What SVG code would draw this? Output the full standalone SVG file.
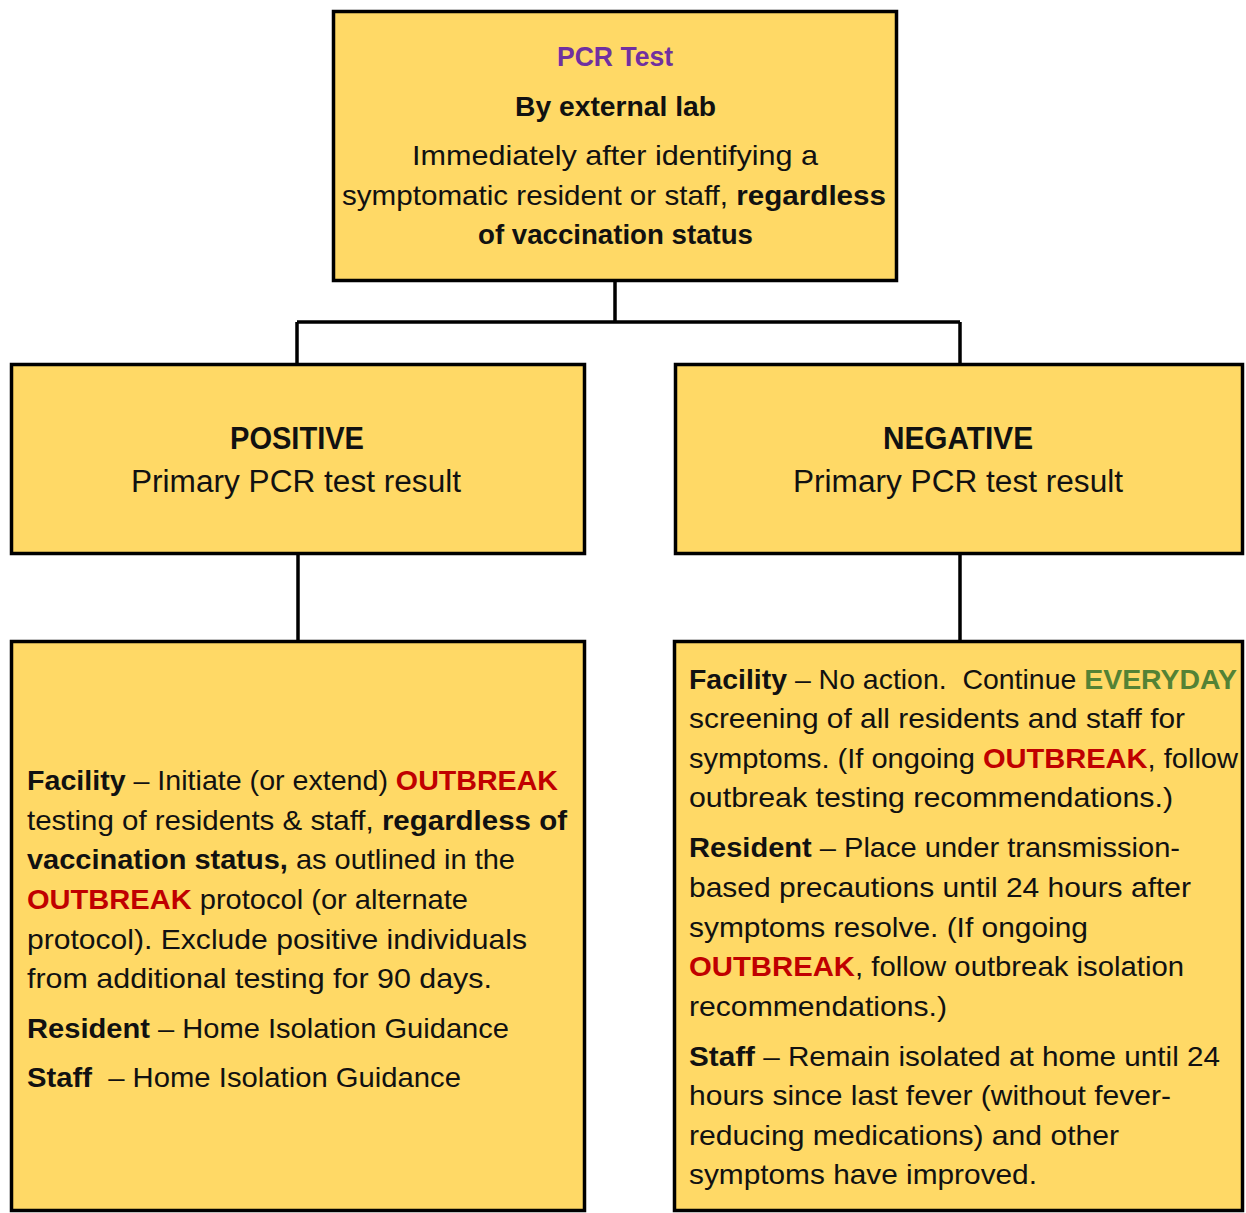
<svg xmlns="http://www.w3.org/2000/svg" width="1246" height="1213" viewBox="0 0 1246 1213">
<style>
.box{fill:#FFD966;stroke:#000;stroke-width:3.5}
.t{font-family:"Liberation Sans",Arial,sans-serif;font-size:28px;fill:#111}
.h{font-size:31px}
.b{font-weight:bold}
.red{fill:#C00000;font-weight:bold}
.grn{fill:#548235;font-weight:bold}
.pur{fill:#7030A0;font-weight:bold}
.c{fill:none;stroke:#000;stroke-width:3.5}
</style>
<rect width="1246" height="1213" fill="#fff"/>
<g id="connectors">
<path class="c" d="M615 282V322M297 322H960M297 322V363M960 322V363"/>
<path class="c" d="M298 555V640"/>
<path class="c" d="M960 555V640"/>
</g>
<g id="pcr-test">
<rect class="box" x="333.5" y="11.5" width="563" height="269"/>
<text class="t pur" x="557" y="66" textLength="116" lengthAdjust="spacingAndGlyphs">PCR Test</text>
<text class="t b" x="515" y="116" textLength="201" lengthAdjust="spacingAndGlyphs">By external lab</text>
<text class="t" x="412" y="165" textLength="406" lengthAdjust="spacingAndGlyphs">Immediately after identifying a</text>
<text class="t" x="342" y="205" textLength="544" lengthAdjust="spacingAndGlyphs">symptomatic resident or staff, <tspan class="b">regardless</tspan></text>
<text class="t b" x="478" y="244" textLength="275" lengthAdjust="spacingAndGlyphs">of vaccination status</text>
</g>
<g id="positive">
<rect class="box" x="11.5" y="364.5" width="573" height="189"/>
<text class="t h b" x="230" y="449" textLength="134" lengthAdjust="spacingAndGlyphs">POSITIVE</text>
<text class="t h" x="131" y="492" textLength="330" lengthAdjust="spacingAndGlyphs">Primary PCR test result</text>
</g>
<g id="negative">
<rect class="box" x="675.5" y="364.5" width="567" height="189"/>
<text class="t h b" x="883" y="449" textLength="150" lengthAdjust="spacingAndGlyphs">NEGATIVE</text>
<text class="t h" x="793" y="492" textLength="330" lengthAdjust="spacingAndGlyphs">Primary PCR test result</text>
</g>
<g id="positive-actions">
<rect class="box" x="11.5" y="641.5" width="573" height="569"/>
<text class="t" x="27" y="790" textLength="531" lengthAdjust="spacingAndGlyphs"><tspan class="b">Facility</tspan> – Initiate (or extend) <tspan class="red">OUTBREAK</tspan></text>
<text class="t" x="27" y="830" textLength="540" lengthAdjust="spacingAndGlyphs">testing of residents &amp; staff, <tspan class="b">regardless of</tspan></text>
<text class="t" x="27" y="869" textLength="488" lengthAdjust="spacingAndGlyphs"><tspan class="b">vaccination status,</tspan> as outlined in the</text>
<text class="t" x="27" y="909" textLength="441" lengthAdjust="spacingAndGlyphs"><tspan class="red">OUTBREAK</tspan> protocol (or alternate</text>
<text class="t" x="27" y="949" textLength="500" lengthAdjust="spacingAndGlyphs">protocol). Exclude positive individuals</text>
<text class="t" x="27" y="988" textLength="465" lengthAdjust="spacingAndGlyphs">from additional testing for 90 days.</text>
<text class="t" x="27" y="1038" textLength="482" lengthAdjust="spacingAndGlyphs"><tspan class="b">Resident</tspan> – Home Isolation Guidance</text>
<text class="t" x="27" y="1087" textLength="434" lengthAdjust="spacingAndGlyphs" xml:space="preserve"><tspan class="b">Staff</tspan>  – Home Isolation Guidance</text>
</g>
<g id="negative-actions">
<rect class="box" x="674.5" y="641.5" width="568" height="569"/>
<text class="t" x="689" y="689" textLength="548" lengthAdjust="spacingAndGlyphs" xml:space="preserve"><tspan class="b">Facility</tspan> – No action.  Continue <tspan class="grn">EVERYDAY</tspan></text>
<text class="t" x="689" y="728" textLength="496" lengthAdjust="spacingAndGlyphs">screening of all residents and staff for</text>
<text class="t" x="689" y="768" textLength="549" lengthAdjust="spacingAndGlyphs">symptoms. (If ongoing <tspan class="red">OUTBREAK</tspan>, follow</text>
<text class="t" x="689" y="807" textLength="484" lengthAdjust="spacingAndGlyphs">outbreak testing recommendations.)</text>
<text class="t" x="689" y="857" textLength="491" lengthAdjust="spacingAndGlyphs"><tspan class="b">Resident</tspan> – Place under transmission-</text>
<text class="t" x="689" y="897" textLength="502" lengthAdjust="spacingAndGlyphs">based precautions until 24 hours after</text>
<text class="t" x="689" y="937" textLength="399" lengthAdjust="spacingAndGlyphs">symptoms resolve. (If ongoing</text>
<text class="t" x="689" y="976" textLength="495" lengthAdjust="spacingAndGlyphs"><tspan class="red">OUTBREAK</tspan>, follow outbreak isolation</text>
<text class="t" x="689" y="1016" textLength="258" lengthAdjust="spacingAndGlyphs">recommendations.)</text>
<text class="t" x="689" y="1066" textLength="531" lengthAdjust="spacingAndGlyphs"><tspan class="b">Staff</tspan> – Remain isolated at home until 24</text>
<text class="t" x="689" y="1105" textLength="482" lengthAdjust="spacingAndGlyphs">hours since last fever (without fever-</text>
<text class="t" x="689" y="1145" textLength="430" lengthAdjust="spacingAndGlyphs">reducing medications) and other</text>
<text class="t" x="689" y="1184" textLength="348" lengthAdjust="spacingAndGlyphs">symptoms have improved.</text>
</g>
</svg>
